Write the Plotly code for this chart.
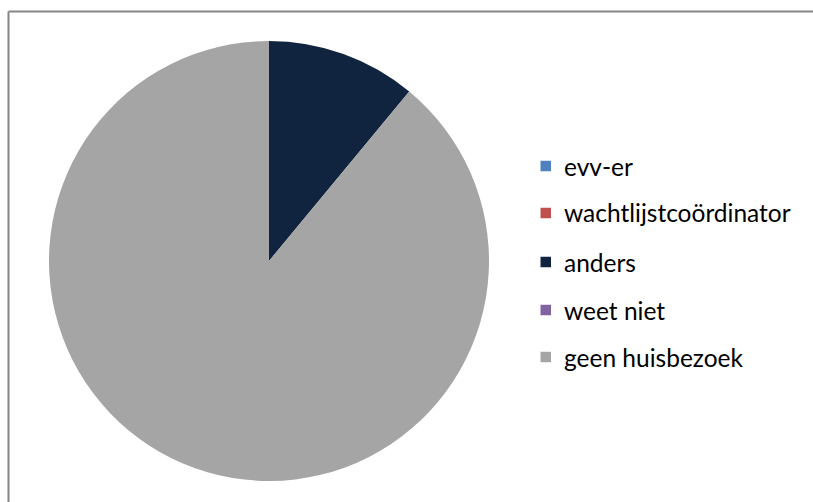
import plotly.graph_objects as go

# Share of responses per category (percent)
categories = ["evv-er", "wachtlijstcoördinator", "anders", "weet niet", "geen huisbezoek"]
values = [0, 0, 11, 0, 89]
colors = ["#4F81BD", "#C0504D", "#10243F", "#8064A2", "#A5A5A5"]

W, H = 813, 502
cx, cy, r = 269, 261, 220  # pie centre and radius in pixels (cy from top)

fig = go.Figure()
fig.add_trace(go.Pie(
    labels=categories,
    values=values,
    marker=dict(colors=colors, line=dict(width=0)),
    sort=False,
    direction="clockwise",
    rotation=0,
    textinfo="none",
    hoverinfo="label+percent",
    showlegend=False,
    domain=dict(x=[(cx - r) / W, (cx + r) / W],
                y=[(H - cy - r) / H, (H - cy + r) / H]),
))

# Legend drawn as swatches + labels, one row per category
row_y = [166, 213, 262, 310, 357]
font = dict(family="Lato, Calibri, Carlito, sans-serif", size=24.5, color="#000000")
sq = 10.5
for name, col, y in zip(categories, colors, row_y):
    fig.add_shape(type="rect", xref="paper", yref="paper",
                  x0=540.5 / W, x1=(540.5 + sq) / W,
                  y0=(H - y - sq / 2) / H, y1=(H - y + sq / 2) / H,
                  fillcolor=col, line=dict(width=0))
    fig.add_annotation(text=name, xref="paper", yref="paper",
                       x=562 / W, y=(H - y) / H, xanchor="left", yanchor="middle",
                       showarrow=False, font=font)

# Chart area border (top and left edges fall inside the canvas)
border = dict(color="#868686", width=2)
fig.add_shape(type="line", xref="paper", yref="paper",
              x0=8.5 / W, x1=1, y0=(H - 11.5) / H, y1=(H - 11.5) / H, line=border)
fig.add_shape(type="line", xref="paper", yref="paper",
              x0=8.5 / W, x1=8.5 / W, y0=0, y1=(H - 11.5) / H, line=border)

fig.update_layout(
    width=W, height=H,
    margin=dict(l=0, r=0, t=0, b=0),
    paper_bgcolor="#FFFFFF",
    plot_bgcolor="#FFFFFF",
)

fig.write_html("out.html", config={"displayModeBar": False})
